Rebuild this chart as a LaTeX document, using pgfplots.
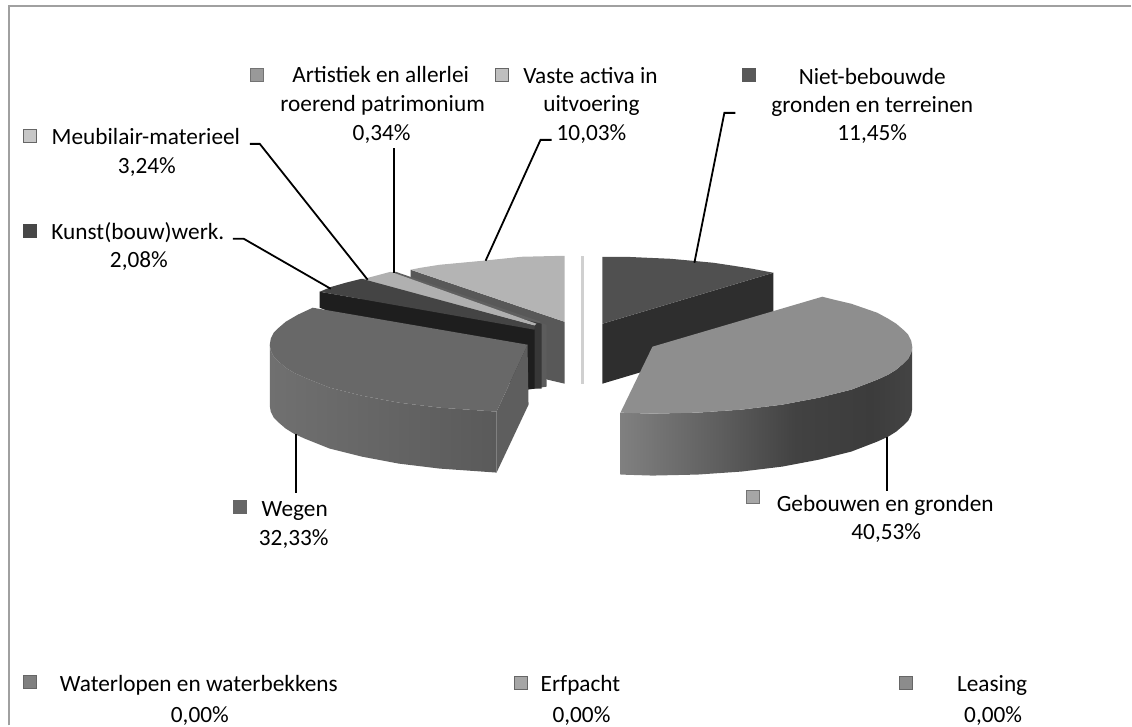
\documentclass[border=0pt]{standalone}
\usepackage{pgfplots}
\pgfplotsset{compat=1.18}
\usepackage{fontspec}
\setmainfont{Carlito}

\definecolor{framegrey}{HTML}{A0A0A0}
\definecolor{gebtop}{HTML}{8E8E8E}
\definecolor{niettop}{HTML}{505050}
\definecolor{nietwall}{HTML}{2E2E2E}
\definecolor{vastetop}{HTML}{B4B4B4}
\definecolor{vastewall}{HTML}{585858}
\definecolor{wegtop}{HTML}{686868}
\definecolor{wegcut}{HTML}{5E5E5E}
\definecolor{kunsttop}{HTML}{444444}
\definecolor{kunstwall}{HTML}{1E1E1E}
\definecolor{meubtop}{HTML}{B0B0B0}
\definecolor{artwall}{HTML}{5C5C5C}
\definecolor{arttop}{HTML}{606060}
\definecolor{sliver}{HTML}{D0D0D0}

\definecolor{ga}{HTML}{808080}
\definecolor{gb}{HTML}{5E5E5E}
\definecolor{gc}{HTML}{424242}
\definecolor{gd}{HTML}{3C3C3C}
\definecolor{ge}{HTML}{444444}
\pgfdeclarehorizontalshading{gebside}{100bp}{color(0bp)=(ga); color(25bp)=(ga); color(42bp)=(gb); color(55bp)=(gc); color(68bp)=(gd); color(75bp)=(ge); color(100bp)=(ge)}
\definecolor{wa}{HTML}{707070}
\definecolor{wb}{HTML}{5A5A5A}
\pgfdeclarehorizontalshading{wegside}{100bp}{color(0bp)=(wa); color(25bp)=(wa); color(75bp)=(wb); color(100bp)=(wb)}

\newcommand{\lab}[3]{\node[font=\fontsize{23.3}{24}\selectfont,anchor=base,inner sep=0pt] at (axis cs:#1,#2) {#3};}

\begin{document}
\begin{tikzpicture}
\begin{axis}[
	width=1132pt,height=726pt,scale only axis,
	xmin=0,xmax=1132,ymin=0,ymax=726,y dir=reverse,
	axis lines=none,clip=false
]
% keeps the page at the full canvas
\addplot[draw=none] coordinates {(0,0) (1132,726)};
% frame
\addplot[framegrey,line width=2pt] coordinates {(9,726) (9,6) (1132,6)};

% vaste activa
\addplot[fill=vastewall,draw=none] coordinates {(411,270) (565,322) (565,384) (548,380) (411,300)};
\addplot[fill=vastetop,draw=none] coordinates {(565,256) (522,257) (483,261) (440,265) (421,268) (411,270) (565,322)};
% sliver of the empty slices
\addplot[fill=sliver,draw=none] coordinates {(582,256) (585,256) (585,384) (582,384)};
% artistiek
\addplot[fill=artwall,draw=none] coordinates {(392,273) (547,325) (547,387) (534,389) (392,300)};
\addplot[fill=arttop,draw=none] coordinates {(391,273) (396,272) (541,322) (537,326)};
% meubilair
\addplot[fill=kunstwall!60!artwall,draw=none] coordinates {(363,279) (542,324) (542,389) (534,389) (363,300)};
\addplot[fill=meubtop,draw=none] coordinates {(361,280) (376,276) (391,272) (537,324) (535,326)};
% kunst
\addplot[fill=kunstwall,draw=none] coordinates {(320,292) (535,329) (535,389) (528,390) (320,308)};
\addplot[fill=kunsttop,draw=none] coordinates {(320,292) (332,287) (346,283) (362,279) (535,326) (535,330)};
% wegen
\addplot[fill=wegcut,draw=none] coordinates {(497,412) (528,345) (529,405) (497,473)};
\addplot[shading=wegside,draw=none] coordinates {(497,412) (440,408) (399,403) (362,396) (330,388) (305,378) (294,373) (286,368) (279,362) (274,357) (271,351) (270,345) (270,406) (271,412) (274,418) (279,423) (286,429) (294,434) (305,439) (330,449) (362,457) (399,464) (440,469) (497,473)};
\addplot[fill=wegtop,draw=none] coordinates {(497,412) (440,408) (399,403) (362,396) (330,388) (305,378) (294,373) (286,368) (279,362) (274,357) (271,351) (270,345) (271,339) (274,333) (279,328) (286,322) (298,315) (313,308) (528,345)};
% niet-bebouwde
\addplot[fill=nietwall,draw=none] coordinates {(603,324) (774,273) (774,333) (603,384)};
\addplot[fill=niettop,draw=none] coordinates {(603,257) (626,257) (648,258) (671,259) (693,261) (714,263) (734,266) (753,269) (774,273) (603,324)};
% gebouwen
\addplot[shading=gebside,draw=none] coordinates {(621,413) (653,414) (698,413) (742,410) (783,405) (820,398) (852,390) (878,380) (889,375) (897,370) (904,364) (909,359) (912,353) (913,347) (913,409) (912,415) (909,421) (904,426) (897,432) (889,437) (878,442) (852,452) (820,460) (783,467) (742,472) (698,475) (653,476) (621,475)};
\addplot[fill=gebtop,draw=none] coordinates {(621,413) (653,347) (823,297) (835,300) (852,304) (878,313) (889,319) (897,324) (904,330) (909,335) (912,341) (913,347) (912,353) (909,359) (904,364) (897,370) (889,375) (878,380) (852,390) (820,398) (783,405) (742,410) (698,413) (653,414)};

% leader lines
\addplot[black,line width=1.8pt] coordinates {(296,434) (296,493)};
\addplot[black,line width=1.8pt] coordinates {(888,437) (888,491)};
\addplot[black,line width=1.8pt] coordinates {(695,263) (725,113) (736,113)};
\addplot[black,line width=1.8pt] coordinates {(486,261) (541,140) (552,140)};
\addplot[black,line width=1.8pt] coordinates {(394,273) (394,148)};
\addplot[black,line width=1.8pt] coordinates {(368,280) (260,144) (250,144)};
\addplot[black,line width=1.8pt] coordinates {(331,289) (244,239) (233,239)};

% legend keys
\addplot[only marks,mark=square*,mark size=6.5pt,mark options={fill=black!40,draw=black!55}] coordinates {(257,75)};
\addplot[only marks,mark=square*,mark size=6.5pt,mark options={fill=black!25,draw=black!60}] coordinates {(502,75)};
\addplot[only marks,mark=square*,mark size=6.5pt,mark options={fill=black!65,draw=black!65}] coordinates {(749,75)};
\addplot[only marks,mark=square*,mark size=6.5pt,mark options={fill=black!22,draw=black!60}] coordinates {(30,136)};
\addplot[only marks,mark=square*,mark size=6.5pt,mark options={fill=black!72,draw=black!72}] coordinates {(30,231)};
\addplot[only marks,mark=square*,mark size=6.5pt,mark options={fill=black!35,draw=black!55}] coordinates {(753,497)};
\addplot[only marks,mark=square*,mark size=6.5pt,mark options={fill=black!60,draw=black!60}] coordinates {(240,507)};
\addplot[only marks,mark=square*,mark size=6.5pt,mark options={fill=black!50,draw=black!60}] coordinates {(30,682)};
\addplot[only marks,mark=square*,mark size=6.5pt,mark options={fill=black!35,draw=black!60}] coordinates {(521,683)};
\addplot[only marks,mark=square*,mark size=6.5pt,mark options={fill=black!45,draw=black!60}] coordinates {(906,683)};

% labels
\lab{381}{83}{Artistiek en allerlei}
\lab{383}{112}{roerend patrimonium}
\lab{382}{141}{0,34\%}
\lab{591}{84}{Vaste activa in}
\lab{592}{112}{uitvoering}
\lab{592}{141}{10,03\%}
\lab{873}{85}{Niet-bebouwde}
\lab{873}{113}{gronden en terreinen}
\lab{873}{141}{11,45\%}
\lab{146}{145}{Meubilair-materieel}
\lab{147}{174}{3,24\%}
\lab{138}{240}{Kunst(bouw)werk.}
\lab{139}{268}{2,08\%}
\lab{886}{512}{Gebouwen en gronden}
\lab{887}{540}{40,53\%}
\lab{295}{517}{Wegen}
\lab{294}{546}{32,33\%}
\lab{199}{692}{Waterlopen en waterbekkens}
\lab{200}{723}{0,00\%}
\lab{581}{692}{Erfpacht}
\lab{582}{723}{0,00\%}
\lab{993}{692}{Leasing}
\lab{994}{723}{0,00\%}
\end{axis}
\end{tikzpicture}
\end{document}
